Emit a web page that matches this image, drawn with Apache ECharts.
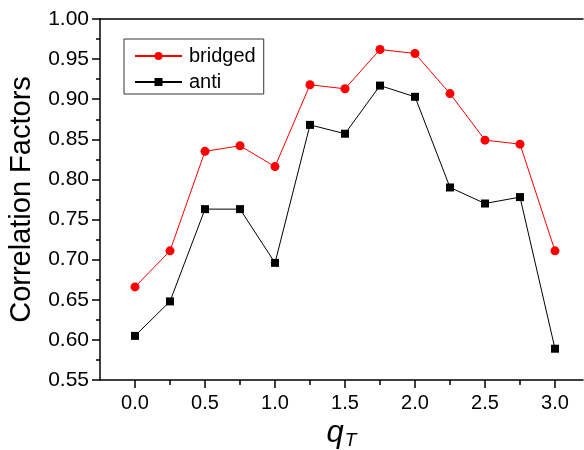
<!DOCTYPE html>
<html>
<head>
<meta charset="utf-8">
<script src="https://cdn.jsdelivr.net/npm/echarts@6/dist/echarts.min.js"></script>
<style>
    html,body{margin:0;padding:0;background:#fff;}
    #chart{width:584px;height:450px;}
</style>
</head>
<body>
<div id="chart"></div>
<script>
    // q_T values
    var qT = [0, 0.25, 0.5, 0.75, 1.0, 1.25, 1.5, 1.75, 2.0, 2.25, 2.5, 2.75, 3.0];
    var bridged = [0.666, 0.711, 0.835, 0.842, 0.816, 0.918, 0.913, 0.962, 0.957, 0.907, 0.849, 0.844, 0.711];
    var anti = [0.605, 0.648, 0.763, 0.763, 0.696, 0.868, 0.857, 0.917, 0.903, 0.790, 0.770, 0.778, 0.589];
    var xMajor = [0, 0.5, 1.0, 1.5, 2.0, 2.5, 3.0];
    var xMinor = [0.25, 0.75, 1.25, 1.75, 2.25, 2.75];

    function pairs(xs, ys){
        return xs.map(function(x, i){ return [x, ys[i]]; });
    }

    var font = 'Liberation Sans, Arial, sans-serif';
    var chart = echarts.init(document.getElementById('chart'));
    var option = {
        animation:false,
        backgroundColor:'#fff',
        grid:{left:100, right:1, top:19, bottom:70, containLabel:false, outerBoundsMode:'none'},
        legend:{
            left:124, top:39,
            orient:'vertical',
            borderColor:'#333', borderWidth:1,
            padding:[7,8,2,10],
            itemWidth:47, itemHeight:10, itemGap:6,
            textStyle:{fontFamily:font, fontSize:20, color:'#000', padding:[0,0,0,2]},
            data:['bridged','anti']
        },
        xAxis:[
            {
                type:'value', min:-0.25, max:3.2, position:'bottom',
                name:'{q|q}{t|T}', nameLocation:'middle', nameGap:37,
                nameTextStyle:{
                    rich:{
                        q:{fontFamily:font, fontStyle:'italic', fontSize:31, color:'#000'},
                        t:{fontFamily:font, fontStyle:'italic', fontSize:19, color:'#000', verticalAlign:'bottom', padding:[14,0,0,1]}
                    }
                },
                axisLine:{show:true, onZero:false, lineStyle:{color:'#000', width:1.5}},
                axisTick:{show:true, inside:false, length:8, customValues:xMajor, lineStyle:{color:'#000', width:1.5}},
                axisLabel:{customValues:xMajor, margin:13, fontFamily:font, fontSize:20, color:'#000',
                    formatter:function(v){ return v.toFixed(1); }},
                splitLine:{show:false}
            },
            {
                type:'value', min:-0.25, max:3.2, position:'bottom',
                axisLine:{show:false},
                axisTick:{show:true, length:5, customValues:xMinor, lineStyle:{color:'#000', width:1.5}},
                axisLabel:{show:false},
                splitLine:{show:false}
            },
            {
                type:'value', min:-0.25, max:3.2, position:'top',
                axisLine:{show:true, onZero:false, lineStyle:{color:'#000', width:1.5}},
                axisTick:{show:false},
                axisLabel:{show:false},
                splitLine:{show:false}
            }
        ],
        yAxis:{
            type:'value', min:0.55, max:1.0, interval:0.05,
            name:'Correlation Factors', nameLocation:'middle', nameGap:64,
            nameTextStyle:{fontFamily:font, fontSize:29, color:'#000'},
            axisLine:{show:true, onZero:false, lineStyle:{color:'#000', width:1.5}},
            axisTick:{show:true, length:8, lineStyle:{color:'#000', width:1.5}},
            minorTick:{show:true, splitNumber:2, length:4, lineStyle:{color:'#000', width:1.5}},
            axisLabel:{margin:11, fontFamily:font, fontSize:21, color:'#000',
                formatter:function(v){ return v.toFixed(2); }},
            splitLine:{show:false}
        },
        series:[
            {
                name:'bridged', type:'line', xAxisIndex:0,
                data:pairs(qT, bridged),
                symbol:'circle', symbolSize:9,
                itemStyle:{color:'#ff0000'},
                lineStyle:{color:'#ff0000', width:1}
            },
            {
                name:'anti', type:'line', xAxisIndex:0,
                data:pairs(qT, anti),
                symbol:'rect', symbolSize:8,
                itemStyle:{color:'#000'},
                lineStyle:{color:'#000', width:1}
            }
        ]
    };
    chart.setOption(option);
    window.addEventListener('resize', chart.resize);
</script>
</body>
</html>
